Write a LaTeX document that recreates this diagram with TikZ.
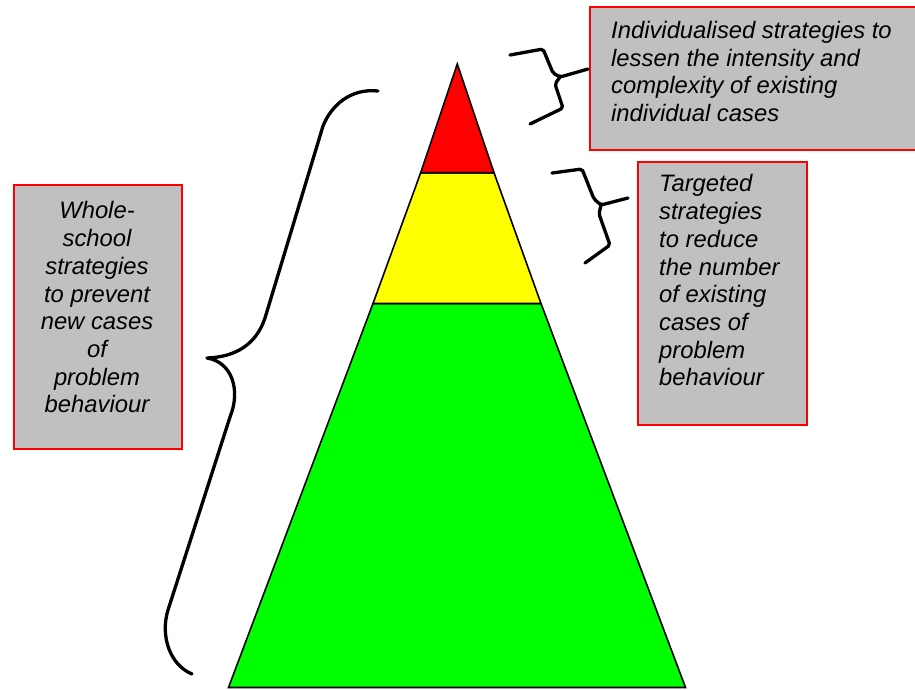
\documentclass[tikz,border=0pt]{standalone}
\usepackage{fontspec}
\setmainfont{Liberation Sans}
\definecolor{boxgray}{HTML}{C0C0C0}
\definecolor{tiptop}{HTML}{FF0000}
\definecolor{tiermid}{HTML}{FFFF00}
\definecolor{tierbase}{HTML}{00FF00}
\begin{document}
\begin{tikzpicture}[x=1pt,y=-1pt,
  tier/.style={draw=black,line width=1.6pt,line join=miter},
  infobox/.style={draw=red,line width=2pt,fill=boxgray,inner sep=0pt,anchor=north west},
  infotext/.style={font=\fontsize{23.8}{27.7}\selectfont\itshape,inner sep=0pt},
  bracket/.style={draw=black,line width=3.3pt,line cap=round,line join=round}]
\clip (0,0) rectangle (915,689);
\fill[white] (0,0) rectangle (915,689);

% pyramid corners
\coordinate (apex) at (457.3,64);
\coordinate (rl) at (420.7,172.7);
\coordinate (rr) at (494,172.7);
\coordinate (yl) at (373,303.5);
\coordinate (yr) at (541,303.5);
\coordinate (gl) at (228.5,687.5);
\coordinate (gr) at (685.5,687.5);

% the three tiers, base first
\path[tier,fill=tierbase] (yl) -- (gl) -- (gr) -- (yr) -- cycle;
\path[tier,fill=tiermid] (rl) -- (yl) -- (yr) -- (rr) -- cycle;
\path[tier,fill=tiptop] (apex) -- (rl) -- (rr) -- cycle;

% text boxes
\node[infobox,minimum width=335,minimum height=143] (box1) at (589,6) {};
\node[infobox,minimum width=169,minimum height=263] (box2) at (637,161) {};
\node[infobox,minimum width=168,minimum height=264] (box3) at (13,184) {};

\node[infotext,align=left,anchor=north west] (txt1) at (611,21)
  {Individualised strategies to\\lessen the intensity and\\complexity of existing\\individual cases};
\node[infotext,align=left,anchor=north west] (txt2) at (659,174.5)
  {Targeted\\strategies\\to reduce\\the number\\of existing\\cases of\\problem\\behaviour};
\node[infotext,align=center,anchor=north] (txt3) at (97,201.5)
  {Whole-\\school\\strategies\\to prevent\\new cases\\of\\problem\\behaviour};

% brace for the top tier
\path[bracket,rounded corners=2pt] (510,55) -- (543,49) -- (553,73) -- (560,77) -- (588,69);
\path[bracket,rounded corners=2pt] (560,77) -- (555,84) -- (563,108) -- (530,124);

% brace for the middle tier
\path[bracket,rounded corners=2pt] (552,173) -- (582,169) -- (594,199) -- (601,205) -- (628,198);
\path[bracket,rounded corners=2pt] (601,205) -- (599,214) -- (610,245) -- (585,263);

% long brace beside the whole pyramid
\path[bracket] (378,91) .. controls (350,88) and (331,106) .. (323,126)
  -- (265,318) .. controls (256,345) and (235,357) .. (207,358)
  .. controls (232,362) and (241,390) .. (230,417)
  -- (168,610) .. controls (160,636) and (170,665) .. (192,674);
\end{tikzpicture}
\end{document}
